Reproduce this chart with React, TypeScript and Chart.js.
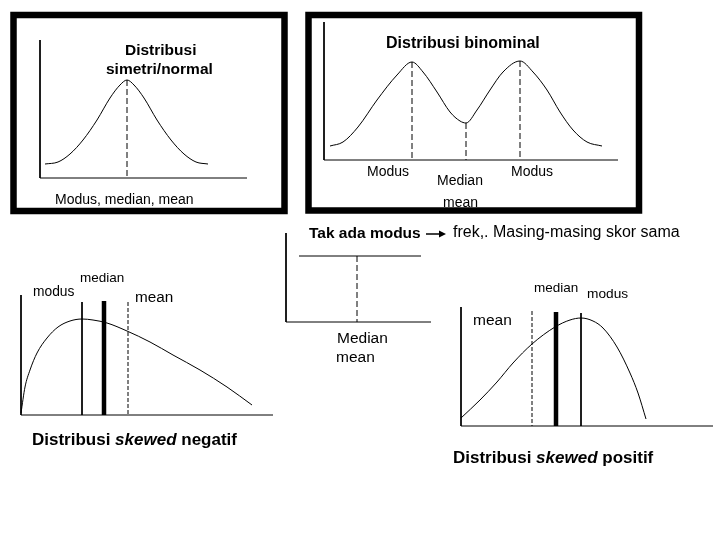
import React, { useEffect, useRef } from "react";
import { Chart, registerables } from "chart.js";

Chart.register(...registerables);

// ---- curve data ----
const normalX = [45, 58, 70, 83, 97, 110, 120, 127, 134, 144, 157, 171, 184, 196, 208];
const normalY = [164, 162, 154, 140, 120, 98, 85, 80, 85, 98, 120, 140, 154, 162, 164];

const binomX = [330, 343, 358, 377, 397, 412, 423, 437, 450, 460, 466, 477, 490, 503, 520, 533, 547, 560, 573, 587, 602];
const binomY = [146, 142, 127, 100, 75, 62, 72, 92, 112, 121, 123, 110, 90, 72, 61, 72, 90, 112, 130, 142, 146];

const uniformX = [299, 421];
const uniformY = [256, 256];

const negX = [21, 25, 30, 37, 47, 58, 70, 82, 93, 107, 127, 150, 173, 200, 227, 252];
const negY = [413, 387, 370, 353, 338, 327, 321, 319, 320, 323, 331, 342, 355, 370, 387, 405];

const posX = [461, 480, 497, 513, 532, 555, 570, 581, 593, 603, 617, 630, 638, 646];
const posY = [418, 400, 382, 363, 344, 327, 320, 318, 321, 328, 347, 373, 393, 419];

// marker (modus / median / mean) lines: [x, top, bottom]
const normalMarkers = [[127, 80, 178]];
const binomMarkers = [[412, 62, 160], [466, 123, 160], [520, 61, 160]];
const uniformMarkers = [[357, 256, 322]];
const negModus = [82, 302, 415];
const negMedian = [104, 301, 415];
const negMean = [128, 302, 415];
const posMean = [532, 311, 426];
const posMedian = [556, 312, 426];
const posModus = [581, 313, 426];

// axes: [originX, topY, baseY, rightX]
const axesList = [
  [40, 40, 178, 247],
  [324, 22, 160, 618],
  [286, 233, 322, 431],
  [21, 295, 415, 273],
  [461, 307, 426, 713],
];

// frames: [left, top, right, bottom]
const frames = [
  [13.5, 15, 284.5, 211],
  [308.5, 15, 639, 210.5],
];

// ---- text ----
const labelTexts = [
  "Distribusi", "simetri/normal", "Modus, median, mean",
  "Distribusi binominal", "Modus", "Median", "Modus", "mean",
  "Tak ada modus", "frek,. Masing-masing skor sama",
  "Median", "mean",
  "median", "modus", "mean",
  "median", "modus", "mean",
];
const labelLayout: [number, number, string][] = [
  [125, 55, "bold 15.5px"], [106, 74, "bold 15.5px"], [55, 204, "14px"],
  [386, 48, "bold 16px"], [367, 176, "14px"], [437, 185, "14px"], [511, 176, "14px"], [443, 207, "14px"],
  [309, 238, "bold 15.5px"], [453, 237, "16px"],
  [337, 343, "15.5px"], [336, 362, "15.5px"],
  [80, 282, "13.5px"], [33, 296, "13.8px"], [135, 302, "15.3px"],
  [534, 292, "13.5px"], [587, 298, "13.7px"], [473, 325, "15.5px"],
];
const skewTitles = [
  ["Distribusi ", "skewed", " negatif"],
  ["Distribusi ", "skewed", " positif"],
];
const skewTitlePos = [[32, 445], [453, 463]];

const FONT = "'Liberation Sans', Arial, sans-serif";

function line(xs: number[], ys: number[], extra: any = {}) {
  return {
    data: xs.map((x, i) => ({ x, y: ys[i] })),
    showLine: true,
    pointRadius: 0,
    borderColor: "#000",
    backgroundColor: "#000",
    borderWidth: 1,
    fill: false,
    ...extra,
  };
}

function vline(m: number[], extra: any = {}) {
  return line([m[0], m[0]], [m[1], m[2]], extra);
}

const textPlugin = {
  id: "texts",
  beforeDraw(chart: any) {
    const c = chart.ctx;
    c.save();
    c.fillStyle = "#fff";
    c.fillRect(0, 0, chart.width, chart.height);
    c.restore();
  },
  afterDatasetsDraw(chart: any) {
    const c = chart.ctx;
    const sx = chart.scales.x;
    const sy = chart.scales.y;
    c.save();
    c.fillStyle = "#000";
    c.textBaseline = "alphabetic";
    c.textAlign = "left";
    labelTexts.forEach((t, i) => {
      const [x, y, f] = labelLayout[i];
      c.font = `${f} ${FONT}`;
      c.fillText(t, sx.getPixelForValue(x), sy.getPixelForValue(y));
    });
    skewTitles.forEach((parts, i) => {
      let x = sx.getPixelForValue(skewTitlePos[i][0]);
      const y = sy.getPixelForValue(skewTitlePos[i][1]);
      parts.forEach((p, j) => {
        c.font = `${j === 1 ? "italic bold" : "bold"} 17px ${FONT}`;
        c.fillText(p, x, y);
        x += c.measureText(p).width;
      });
    });
    // arrow after "Tak ada modus"
    const ax0 = sx.getPixelForValue(426);
    const ax1 = sx.getPixelForValue(446);
    const ay = sy.getPixelForValue(234);
    c.strokeStyle = "#000";
    c.lineWidth = 1.5;
    c.beginPath();
    c.moveTo(ax0, ay);
    c.lineTo(ax1 - 5, ay);
    c.stroke();
    c.beginPath();
    c.moveTo(ax1, ay);
    c.lineTo(ax1 - 7, ay - 3.5);
    c.lineTo(ax1 - 7, ay + 3.5);
    c.closePath();
    c.fill();
    c.restore();
  },
};

export default function App() {
  const ref = useRef<HTMLCanvasElement>(null);
  useEffect(() => {
    document.body.style.margin = "0";
    const datasets: any[] = [];
    frames.forEach(([l, t, r, b]) => {
      datasets.push(
        line([l, r, r, l, l], [t, t, b, b, t], {
          borderWidth: 6.5,
          borderJoinStyle: "miter",
          borderCapStyle: "square",
        })
      );
    });
    axesList.forEach(([ox, top, base, right]) => {
      datasets.push(line([ox, ox, right], [top, base, base]));
    });
    const curve = { cubicInterpolationMode: "monotone" };
    datasets.push(line(normalX, normalY, curve));
    datasets.push(line(binomX, binomY, curve));
    datasets.push(line(uniformX, uniformY));
    datasets.push(line(negX, negY, curve));
    datasets.push(line(posX, posY, curve));
    const dash = { borderDash: [6, 3] };
    [...normalMarkers, ...binomMarkers, ...uniformMarkers].forEach((m) => datasets.push(vline(m, dash)));
    datasets.push(vline(negModus));
    datasets.push(vline(negMedian, { borderWidth: 4.5 }));
    datasets.push(vline(negMean, { borderDash: [4, 2] }));
    datasets.push(vline(posMean, { borderDash: [4, 2] }));
    datasets.push(vline(posMedian, { borderWidth: 4.5 }));
    datasets.push(vline(posModus));

    const chart = new Chart(ref.current!, {
      type: "scatter",
      data: { datasets },
      options: {
        animation: false,
        responsive: false,
        devicePixelRatio: 1,
        layout: { padding: 0 },
        plugins: { legend: { display: false }, tooltip: { enabled: false } },
        scales: {
          x: { type: "linear", min: 0, max: 720, display: false },
          y: { type: "linear", min: 0, max: 540, reverse: true, display: false },
        },
      },
      plugins: [textPlugin],
    });
    return () => chart.destroy();
  }, []);
  return <canvas ref={ref} width={720} height={540} style={{ display: "block" }} />;
}
